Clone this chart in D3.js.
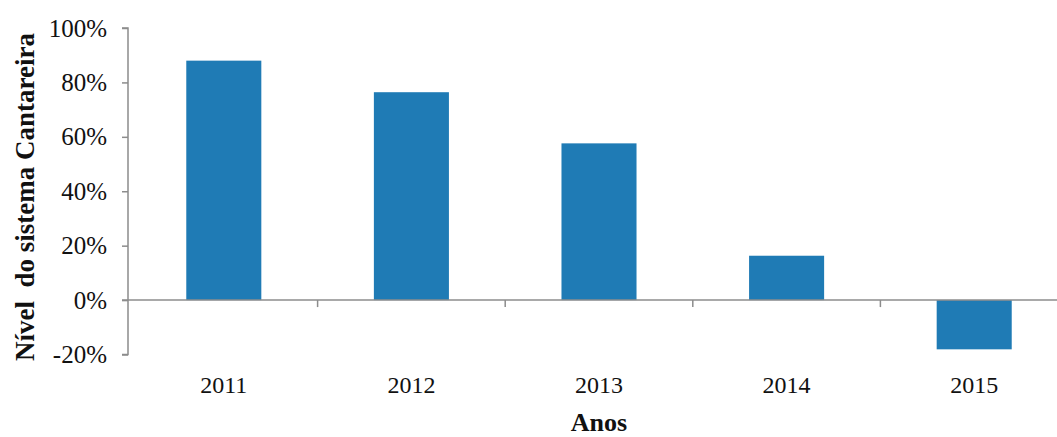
<!DOCTYPE html>
<html>
<head>
<meta charset="utf-8">
<script src="https://cdn.jsdelivr.net/npm/d3@7"></script>
<style>
body { margin: 0; background: #fff; }
svg text { font-family: "Liberation Serif", "Times New Roman", serif; fill: #111; }
</style>
</head>
<body>
<svg id="mainSvg" width="1057" height="437"></svg>
<script>
var anos = ["2011", "2012", "2013", "2014", "2015"];
var nivel = [0.88, 0.764, 0.576, 0.163, -0.181];
var yTicks = [-0.2, 0, 0.2, 0.4, 0.6, 0.8, 1.0];

var svg = d3.select("#mainSvg");
var axisCol = "#8c8c8c";

var x = d3.scaleBand().domain(anos).range([130, 1068]).paddingInner(0.6).paddingOuter(0.3);
var y = d3.scaleLinear().domain([-0.2, 1.0]).range([354.5, 28]);

// bars
svg.selectAll("rect.bar").data(anos).enter().append("rect")
	.attr("class", "bar")
	.attr("x", function(d) { return x(d); })
	.attr("width", x.bandwidth())
	.attr("y", function(d, i) { return y(Math.max(0, nivel[i])); })
	.attr("height", function(d, i) { return Math.abs(y(nivel[i]) - y(0)); })
	.attr("fill", "#1f7bb5");

// y axis
var yAxis = d3.axisLeft(y).tickValues(yTicks).tickSize(6).tickPadding(15)
	.tickFormat(function(d) { return d3.format(".0%")(d).replace("\u2212", "-"); });
var gy = svg.append("g").attr("transform", "translate(128,0)").call(yAxis);
gy.select(".domain").attr("stroke", axisCol).attr("stroke-width", 1.5).attr("d", "M-6," + y(-0.2) + "H0V" + y(1.0) + "H-6");
gy.selectAll(".tick line").attr("stroke", axisCol).attr("stroke-width", 1.5);
gy.selectAll(".tick text").attr("font-size", "25px").attr("fill", "#111")
	.style("font-family", "Liberation Serif");

// x axis at zero
svg.append("line").attr("x1", 122).attr("x2", 1057).attr("y1", y(0)).attr("y2", y(0))
	.attr("stroke", axisCol).attr("stroke-width", 1.5);
var step = x.step();
var bounds = d3.range(1, anos.length).map(function(i) { return 130 + i * step; });
svg.selectAll("line.xt").data(bounds).enter().append("line")
	.attr("class", "xt")
	.attr("x1", function(d) { return d; }).attr("x2", function(d) { return d; })
	.attr("y1", y(0)).attr("y2", y(0) + 7)
	.attr("stroke", axisCol).attr("stroke-width", 1.5);
svg.selectAll("text.xl").data(anos).enter().append("text")
	.attr("class", "xl")
	.attr("x", function(d) { return x(d) + x.bandwidth() / 2; })
	.attr("y", 393)
	.attr("text-anchor", "middle")
	.attr("font-size", "24px")
	.text(function(d) { return d; });

// titles
svg.append("text").attr("x", 599).attr("y", 431).attr("text-anchor", "middle")
	.attr("font-size", "26px").attr("font-weight", "bold").text("Anos");
svg.append("text").attr("transform", "translate(34,197) rotate(-90)")
	.attr("text-anchor", "middle").attr("font-size", "27px").attr("font-weight", "bold")
	.attr("xml:space", "preserve").style("white-space", "pre")
	.text("Nível  do sistema Cantareira");
</script>
</body>
</html>
